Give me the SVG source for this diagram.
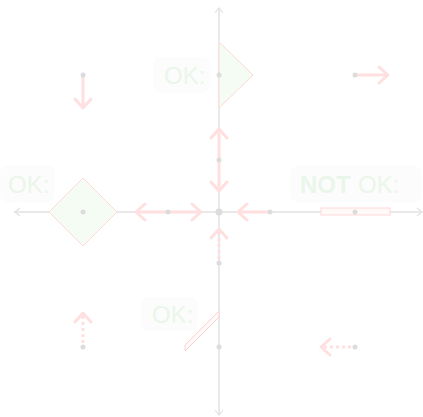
<svg xmlns="http://www.w3.org/2000/svg" width="423" height="417" viewBox="0 0 423 417">
<style>
.axis{stroke:#e2e2e2;stroke-width:1.5;fill:none}
.ahd{stroke:#e2e2e2;stroke-width:1.2;fill:none}
.arr{stroke:#ffdfdf;stroke-width:3;fill:none;stroke-linecap:round;stroke-linejoin:round}
.dash{stroke-dasharray:3 3;stroke-linecap:butt}
.dot{fill:#dcdcdc}
.shape{fill:#f5fcf3;stroke:#ffd8d8;stroke-width:1}
.lblbg{fill:#fcfcfc}
.lbl{font-family:"Liberation Sans",Arial,sans-serif;font-size:24px;fill:#ebf6ea}
</style>
<g id="connectors">
<line class="axis" x1="14" y1="212" x2="422" y2="212"/>
<line class="axis" x1="219" y1="8" x2="219" y2="415"/>
<polyline class="ahd" points="20,208 15,212 20,216"/>
<polyline class="ahd" points="417,208 422,212 417,216"/>
<polyline class="ahd" points="215,13 219,8 223,13"/>
<polyline class="ahd" points="215,410 219,415 223,410"/>
<line class="arr" x1="219" y1="130" x2="219" y2="190"/>
<polyline class="arr" points="211,138 219,129 227,138"/>
<polyline class="arr" points="211,182 219,191 227,182"/>
<line class="arr" x1="137" y1="212" x2="200" y2="212"/>
<polyline class="arr" points="145,204 136,212 145,220"/>
<polyline class="arr" points="192,204 201,212 192,220"/>
<line class="arr" x1="239" y1="212" x2="270" y2="212"/>
<polyline class="arr" points="247,204 238,212 247,220"/>
<line class="arr dash" x1="219" y1="232" x2="219" y2="263"/>
<polyline class="arr" points="211,238 219,229 227,238"/>
<line class="arr" x1="83" y1="75" x2="83" y2="107"/>
<polyline class="arr" points="75,99 83,108 91,99"/>
<line class="arr" x1="355" y1="75" x2="387" y2="75"/>
<polyline class="arr" points="379,67 388,75 379,83"/>
<line class="arr dash" x1="83" y1="316" x2="83" y2="347"/>
<polyline class="arr" points="75,322 83,313 91,322"/>
<line class="arr dash" x1="324" y1="347" x2="355" y2="347"/>
<polyline class="arr" points="330,339 321,347 330,355"/>
</g>
<g id="node-top">
<rect class="lblbg" x="153" y="57" width="57" height="36" rx="8"/>
<text class="lbl" x="164" y="84">OK:</text>
<polygon class="shape" points="219,42 253,75 219,108"/>
<circle class="dot" cx="219" cy="75" r="2.5"/>
</g>
<g id="node-left">
<rect class="lblbg" x="0" y="165" width="55" height="37" rx="8"/>
<text class="lbl" x="8" y="193">OK:</text>
<polygon class="shape" points="83,178 117,212 83,246 49,212"/>
<circle class="dot" cx="83" cy="212" r="2.5"/>
</g>
<g id="node-right">
<rect class="lblbg" x="290" y="166" width="132" height="36" rx="8"/>
<text class="lbl" x="300" y="193" font-weight="bold">NOT</text>
<text class="lbl" x="358" y="193">OK:</text>
<rect x="321" y="208" width="69" height="7" fill="#fffaf8" stroke="#ffd8d8" stroke-width="1"/>
<circle class="dot" cx="355" cy="212" r="2.5"/>
</g>
<g id="node-bottom">
<rect class="lblbg" x="141" y="297" width="57" height="34" rx="8"/>
<text class="lbl" x="152" y="323">OK:</text>
<polygon points="185,345 219,311 219,317 185,351" fill="#fffafa" stroke="#ffd0d0" stroke-width="1"/>
<circle class="dot" cx="219" cy="347" r="2.5"/>
</g>
<g id="node-center">
<circle class="dot" cx="219" cy="212" r="3.5"/>
<circle class="dot" cx="219" cy="160" r="2.5"/>
<circle class="dot" cx="168" cy="212" r="2.5"/>
<circle class="dot" cx="270" cy="212" r="2.5"/>
<circle class="dot" cx="219" cy="263" r="2.5"/>
<circle class="dot" cx="83" cy="75" r="2.5"/>
<circle class="dot" cx="355" cy="75" r="2.5"/>
<circle class="dot" cx="83" cy="347" r="2.5"/>
<circle class="dot" cx="355" cy="347" r="2.5"/>
</g>
</svg>
